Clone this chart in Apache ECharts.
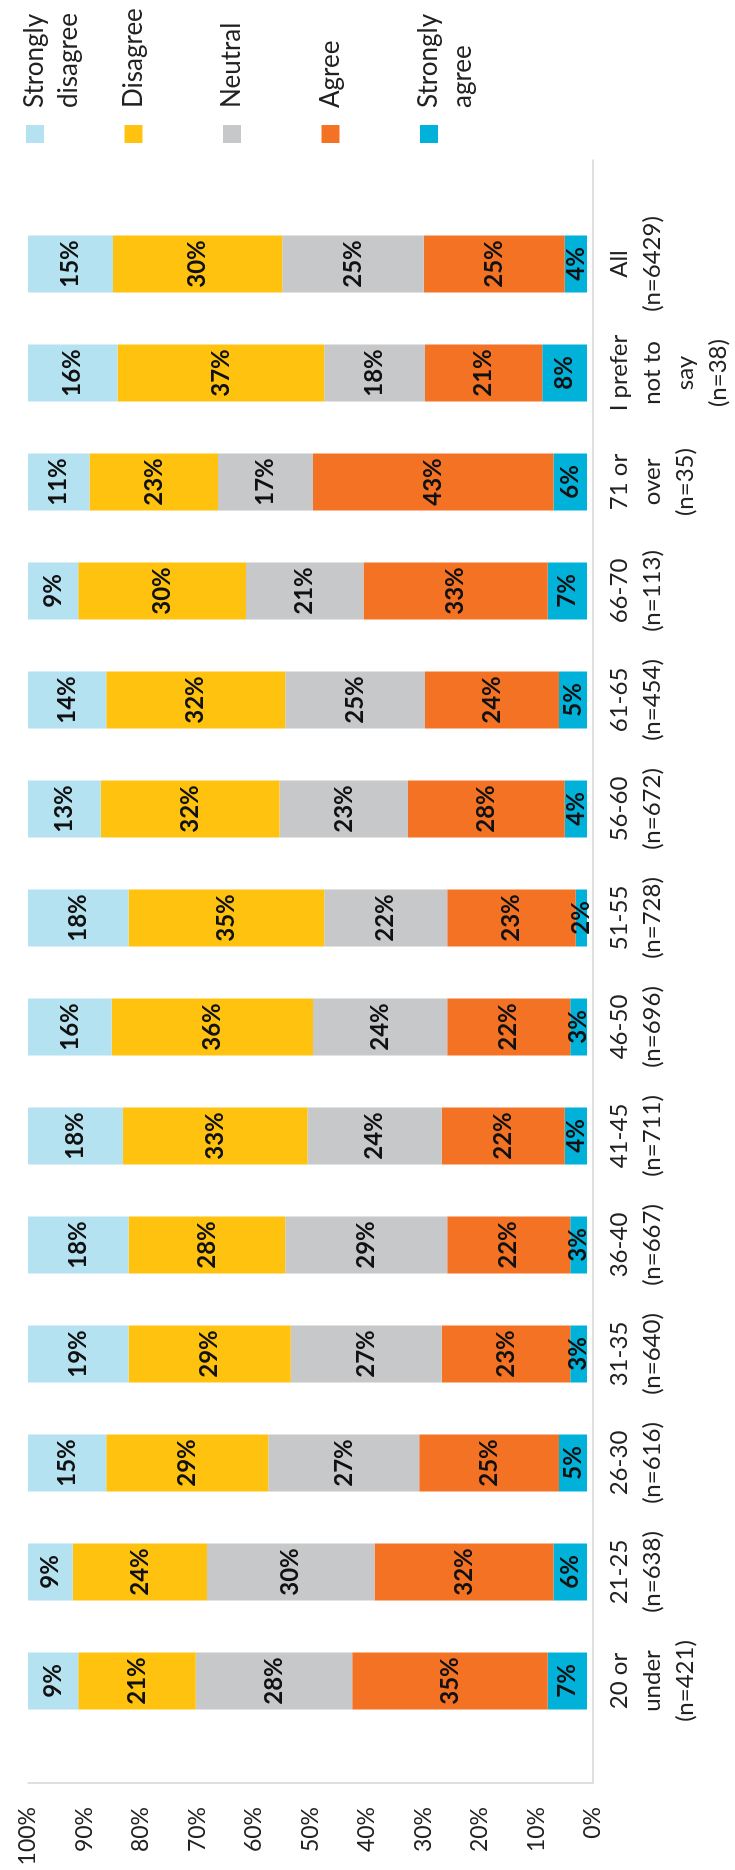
<!DOCTYPE html>
<html>
<head>
<meta charset="utf-8">
<script src="https://cdn.jsdelivr.net/npm/echarts@6/dist/echarts.min.js"></script>
<style>
  html, body { margin: 0; padding: 0; width: 735px; height: 1870px; overflow: hidden; background: #fff; }
  /* chart is laid out landscape, then turned a quarter left */
  #chart { position: absolute; left: 0; top: 0; width: 1870px; height: 735px;
           transform-origin: 0 0; transform: translateY(1870px) rotate(-90deg); }
</style>
</head>
<body>
<div id="chart"></div>
<script>
var categories = ['20 or\nunder\n(n=421)', '21-25\n(n=638)', '26-30\n(n=616)', '31-35\n(n=640)',
  '36-40\n(n=667)', '41-45\n(n=711)', '46-50\n(n=696)', '51-55\n(n=728)', '56-60\n(n=672)',
  '61-65\n(n=454)', '66-70\n(n=113)', '71 or\nover\n(n=35)', 'I prefer\nnot to\nsay\n(n=38)', 'All\n(n=6429)'];

var stronglyAgree    = [7, 6, 5, 3, 3, 4, 3, 2, 4, 5, 7, 6, 8, 4.0];
var agree            = [35, 32, 25, 23, 22, 22, 22, 23, 28, 24, 33, 43, 21, 25.2];
var neutral          = [28, 30, 27, 27, 29, 24, 24, 22, 23, 25, 21, 17, 18, 25.3];
var disagree         = [21, 24, 29, 29, 28, 33, 36, 35, 32, 32, 30, 23, 37, 30.3];
var stronglyDisagree = [9, 9, 15, 19, 18, 18, 16, 18, 13, 14, 9, 11, 16, 15.2];

var valueTicks = [0, 10, 20, 30, 40, 50, 60, 70, 80, 90, 100];

var thin = 'Lato';
var chart = echarts.init(document.getElementById('chart'));

function bar(name, data, color) {
  return {
    name: name, type: 'bar', stack: 'all', data: data,
    xAxisIndex: 0, yAxisIndex: 0, barWidth: 57,
    itemStyle: { color: color },
    label: { show: true, position: 'inside',
             formatter: function (p) { return Math.round(p.value) + '%'; },
             fontFamily: thin, fontWeight: 'bold', fontSize: 24, color: '#111' }
  };
}

var option = {
  animation: false,
  backgroundColor: '#fff',
  textStyle: { fontFamily: thin },
  legend: {
    orient: 'vertical', left: 1727, top: -16, padding: 0,
    itemWidth: 18, itemHeight: 18, itemGap: -3.5, icon: 'rect',
    selectedMode: false,
    // three text rows per item so that the first label row sits level with the swatch
    formatter: function (name) {
      return name.indexOf('\n') >= 0 ? '\n' + name : '\n' + name + '\n';
    },
    textStyle: { fontSize: 26, color: '#222', lineHeight: 34, padding: [0, 0, 0, 12] },
    data: ['Strongly\ndisagree', 'Disagree', 'Neutral', 'Agree', 'Strongly\nagree']
  },
  grid: [
    { left: 134.5, right: 209.5, top: 28, bottom: 142 },
    { left: 87, right: 160, top: 28, bottom: 142 }
  ],
  xAxis: [
    { type: 'category', gridIndex: 0, data: categories,
      axisLine: { show: false }, axisTick: { show: false },
      axisLabel: { interval: 0, margin: 16, fontSize: 24, color: '#222', lineHeight: 33 } },
    { type: 'value', gridIndex: 1, min: 0, max: 1,
      axisLine: { show: true, lineStyle: { color: '#d6d6d6', width: 1.5 } },
      axisTick: { show: false }, axisLabel: { show: false }, splitLine: { show: false } }
  ],
  yAxis: [
    { type: 'value', gridIndex: 0, min: 0, max: 100, show: false },
    { type: 'value', gridIndex: 1, min: valueTicks[0], max: valueTicks[valueTicks.length - 1], interval: 10,
      axisLine: { show: true, lineStyle: { color: '#d6d6d6', width: 1.5 } },
      axisTick: { show: false }, splitLine: { show: false },
      axisLabel: { margin: 24, fontSize: 23, color: '#222', formatter: '{value}%' } }
  ],
  series: [
    bar('Strongly\nagree', stronglyAgree, '#00b1da'),
    bar('Agree', agree, '#f47224'),
    bar('Neutral', neutral, '#c7c8ca'),
    bar('Disagree', disagree, '#ffc20e'),
    bar('Strongly\ndisagree', stronglyDisagree, '#b5e2f1')
  ]
};
chart.setOption(option);
</script>
</body>
</html>
